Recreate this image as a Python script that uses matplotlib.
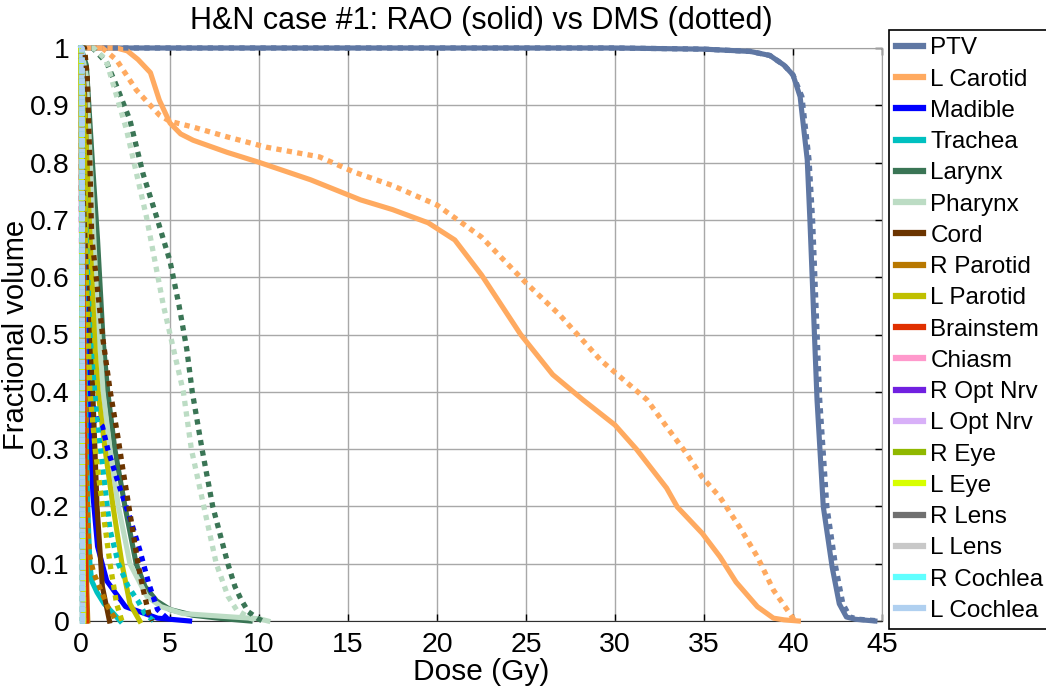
import matplotlib
matplotlib.use("Agg")
import matplotlib.pyplot as plt

plt.rcParams['font.family'] = ['Liberation Sans', 'DejaVu Sans']

organs = ["PTV", "L Carotid", "Madible", "Trachea", "Larynx", "Pharynx", "Cord",
          "R Parotid", "L Parotid", "Brainstem", "Chiasm", "R Opt Nrv", "L Opt Nrv",
          "R Eye", "L Eye", "R Lens", "L Lens", "R Cochlea", "L Cochlea"]
colors = ["#5f77a3", "#ffaa60", "#0000ff", "#00c0c0", "#3a7555", "#bcdcc4", "#6b3400",
          "#b87800", "#c0c000", "#e03000", "#ff99cc", "#7020e0", "#d8b0f8",
          "#90b800", "#d8ff00", "#707070", "#c8c8c8", "#60ffff", "#b0d0f0"]

x_ticks = [0, 5, 10, 15, 20, 25, 30, 35, 40, 45]
y_ticks = [0, 0.1, 0.2, 0.3, 0.4, 0.5, 0.6, 0.7, 0.8, 0.9, 1]
y_tick_labels = ["0", "0.1", "0.2", "0.3", "0.4", "0.5", "0.6", "0.7", "0.8", "0.9", "1"]

# ---- RAO plan (solid): dose in Gy, fractional volume ----
ptv_rao_dose = [0, 30, 35, 37.6, 38.7, 39.5, 40.0, 40.4, 40.8, 40.95, 41.35, 41.7, 42.2, 42.6, 43.0, 43.5, 44.6]
ptv_rao_vol = [1, 1, 0.998, 0.994, 0.987, 0.97, 0.953, 0.915, 0.805, 0.70, 0.386, 0.2, 0.094, 0.03, 0.007, 0.003, 0]
lcar_rao_dose = [0, 2.0, 2.6, 3.2, 3.9, 4.4, 5.0, 5.6, 6.3, 8.2, 10.05, 12.9, 15.7, 17.5, 19.5, 21.0, 22.5,
                 24.7, 26.5, 28.2, 30.0, 31.2, 32.9, 33.5, 34.9, 35.9, 36.8, 38.0, 38.9, 39.5, 40.3]
lcar_rao_vol = [1, 1, 0.995, 0.98, 0.957, 0.909, 0.869, 0.85, 0.839, 0.818, 0.80, 0.77, 0.735, 0.718, 0.695, 0.665, 0.604,
                0.5, 0.43, 0.386, 0.342, 0.3, 0.232, 0.199, 0.153, 0.112, 0.068, 0.025, 0.005, 0.002, 0]
mand_rao_dose = [0, 0.15, 0.3, 0.4, 0.5, 0.67, 0.93, 1.45, 2.5, 4.3, 6.1]
mand_rao_vol = [1, 0.8, 0.55, 0.46, 0.33, 0.22, 0.13, 0.07, 0.025, 0.005, 0]
trach_rao_dose = [0, 0.1, 0.2, 0.3, 0.4, 0.5, 0.6, 0.9, 1.3, 1.8, 2.2]
trach_rao_vol = [1, 0.8, 0.5, 0.3, 0.18, 0.1, 0.07, 0.05, 0.03, 0.014, 0]
lar_rao_dose = [0, 0.3, 0.6, 0.93, 1.24, 1.5, 1.9, 2.47, 3.1, 3.6, 4.25, 5.0, 6.3, 8.0, 9.5]
lar_rao_vol = [1, 0.97, 0.82, 0.665, 0.49, 0.4, 0.3, 0.2, 0.1, 0.06, 0.035, 0.02, 0.01, 0.004, 0]
phar_rao_dose = [0, 0.3, 0.6, 0.9, 1.24, 1.63, 2.1, 2.75, 3.7, 4.5, 5.7, 8.5, 10.0, 10.5]
phar_rao_vol = [1, 0.95, 0.75, 0.55, 0.4, 0.3, 0.2, 0.1, 0.043, 0.025, 0.013, 0.007, 0.004, 0]
cord_rao_dose = [0, 0.2, 0.4, 0.6, 0.9, 1.2, 1.6]
cord_rao_vol = [1, 0.92, 0.7, 0.45, 0.2, 0.06, 0]
rpar_rao_dose = [0, 0.1, 0.2, 0.28, 0.33, 0.38]
rpar_rao_vol = [1, 0.7, 0.35, 0.12, 0.05, 0]
lpar_rao_dose = [0, 0.2, 0.4, 0.6, 0.8, 0.96, 1.35, 1.8, 2.3, 2.75, 3.3]
lpar_rao_vol = [1, 0.9, 0.75, 0.6, 0.47, 0.4, 0.3, 0.2, 0.1, 0.03, 0]
bstem_rao_dose = [0, 0.15, 0.25, 0.3]
bstem_rao_vol = [1, 0.5, 0.1, 0]
chiasm_rao_dose = [0, 0.05, 0.12]
chiasm_rao_vol = [1, 0.4, 0]
ropt_rao_dose = [0, 0.05, 0.1]
ropt_rao_vol = [1, 0.5, 0]
lopt_rao_dose = [0, 0.05, 0.1]
lopt_rao_vol = [1, 0.5, 0]
reye_rao_dose = [0, 0.08, 0.15]
reye_rao_vol = [1, 0.3, 0]
leye_rao_dose = [0, 0.08, 0.15]
leye_rao_vol = [1, 0.3, 0]
rlens_rao_dose = [0, 0.05, 0.08]
rlens_rao_vol = [1, 1, 0]
llens_rao_dose = [0, 0.05, 0.08]
llens_rao_vol = [1, 1, 0]
rcoch_rao_dose = [0, 0.05, 0.08]
rcoch_rao_vol = [1, 1, 0]
lcoch_rao_dose = [0, 0.06, 0.1]
lcoch_rao_vol = [1, 1, 0]

# ---- DMS plan (dotted) ----
ptv_dms_dose = [0, 30, 35, 37.6, 38.7, 39.5, 40.0, 40.5, 40.9, 41.1, 41.5, 41.9, 42.4, 42.8, 43.2, 43.7, 44.9]
ptv_dms_vol = [1, 1, 0.998, 0.994, 0.987, 0.97, 0.953, 0.915, 0.805, 0.70, 0.386, 0.2, 0.094, 0.03, 0.007, 0.003, 0]
lcar_dms_dose = [0, 1.2, 2.0, 3.1, 4.4, 5.0, 6.3, 8.2, 10.4, 13.4, 15.3, 17.5, 20.0, 22.5, 25.0, 26.9,
                 29.2, 31.8, 32.9, 34.0, 34.9, 35.9, 37.0, 38.0, 38.9, 39.8, 40.1]
lcar_dms_vol = [1, 1, 0.979, 0.927, 0.883, 0.872, 0.862, 0.845, 0.827, 0.81, 0.784, 0.76, 0.726, 0.67, 0.59, 0.534,
                0.455, 0.386, 0.339, 0.293, 0.251, 0.216, 0.164, 0.112, 0.054, 0.014, 0]
mand_dms_dose = [0, 0.1, 0.2, 0.35, 0.5, 0.9, 1.2, 1.5, 2.1, 2.75, 3.3, 3.8, 4.3, 5.0]
mand_dms_vol = [1, 0.85, 0.65, 0.48, 0.40, 0.35, 0.34, 0.3, 0.24, 0.18, 0.124, 0.066, 0.02, 0]
trach_dms_dose = [0, 0.2, 0.5, 0.9, 1.4, 1.63, 2.1, 2.65, 3.2, 3.6, 4.1]
trach_dms_vol = [1, 0.75, 0.5, 0.35, 0.22, 0.159, 0.1, 0.06, 0.035, 0.012, 0]
lar_dms_dose = [0, 0.66, 1.45, 1.98, 2.75, 3.49, 4.2, 5.0, 5.5, 5.94, 6.25, 6.8, 7.4, 8.25, 8.65, 9.0, 9.4, 9.9, 10.2]
lar_dms_vol = [1, 1, 0.974, 0.935, 0.874, 0.78, 0.71, 0.628, 0.552, 0.475, 0.4, 0.3, 0.2, 0.1, 0.06, 0.037, 0.016, 0.005, 0]
phar_dms_dose = [0, 0.7, 1.4, 2.55, 3.68, 4.62, 5.75, 6.2, 6.9, 7.6, 8.26, 8.75, 9.5, 10.0]
phar_dms_vol = [1, 1, 0.98, 0.858, 0.705, 0.552, 0.4, 0.3, 0.2, 0.1, 0.043, 0.019, 0.005, 0]
cord_dms_dose = [0, 0.2, 0.35, 0.5, 0.6, 0.73, 0.93, 1.24, 1.63, 2.1, 2.3, 2.6, 2.9, 3.2, 3.5, 3.8, 4.0]
cord_dms_vol = [1, 1, 0.95, 0.8, 0.67, 0.635, 0.578, 0.49, 0.403, 0.316, 0.275, 0.217, 0.159, 0.1, 0.054, 0.014, 0]
rpar_dms_dose = [0, 0.15, 0.25, 0.32, 0.4, 0.5, 0.7, 0.95, 1.5, 2.0]
rpar_dms_vol = [1, 0.8, 0.5, 0.25, 0.15, 0.112, 0.085, 0.066, 0.025, 0]
lpar_dms_dose = [0, 0.15, 0.3, 0.5, 0.8, 1.2, 1.63, 2.0, 2.3]
lpar_dms_vol = [1, 0.85, 0.6, 0.4, 0.3, 0.2, 0.1, 0.03, 0]
bstem_dms_dose = [0, 0.1, 0.2, 0.25]
bstem_dms_vol = [1, 0.6, 0.15, 0]
chiasm_dms_dose = [0, 0.05, 0.1]
chiasm_dms_vol = [1, 0.4, 0]
ropt_dms_dose = [0, 0.05, 0.1]
ropt_dms_vol = [1, 0.5, 0]
lopt_dms_dose = [0, 0.05, 0.1]
lopt_dms_vol = [1, 0.5, 0]
reye_dms_dose = [0, 0.08, 0.15]
reye_dms_vol = [1, 0.3, 0]
leye_dms_dose = [0, 0.08, 0.15]
leye_dms_vol = [1, 0.3, 0]
rlens_dms_dose = [0, 0.05, 0.08]
rlens_dms_vol = [1, 1, 0]
llens_dms_dose = [0, 0.05, 0.08]
llens_dms_vol = [1, 1, 0]
rcoch_dms_dose = [0, 0.05, 0.08]
rcoch_dms_vol = [1, 1, 0]
lcoch_dms_dose = [0, 0.06, 0.1]
lcoch_dms_vol = [1, 1, 0]

rao_curves = [
    (ptv_rao_dose, ptv_rao_vol), (lcar_rao_dose, lcar_rao_vol), (mand_rao_dose, mand_rao_vol),
    (trach_rao_dose, trach_rao_vol), (lar_rao_dose, lar_rao_vol), (phar_rao_dose, phar_rao_vol),
    (cord_rao_dose, cord_rao_vol), (rpar_rao_dose, rpar_rao_vol), (lpar_rao_dose, lpar_rao_vol),
    (bstem_rao_dose, bstem_rao_vol), (chiasm_rao_dose, chiasm_rao_vol), (ropt_rao_dose, ropt_rao_vol),
    (lopt_rao_dose, lopt_rao_vol), (reye_rao_dose, reye_rao_vol), (leye_rao_dose, leye_rao_vol),
    (rlens_rao_dose, rlens_rao_vol), (llens_rao_dose, llens_rao_vol), (rcoch_rao_dose, rcoch_rao_vol),
    (lcoch_rao_dose, lcoch_rao_vol),
]
dms_curves = [
    (ptv_dms_dose, ptv_dms_vol), (lcar_dms_dose, lcar_dms_vol), (mand_dms_dose, mand_dms_vol),
    (trach_dms_dose, trach_dms_vol), (lar_dms_dose, lar_dms_vol), (phar_dms_dose, phar_dms_vol),
    (cord_dms_dose, cord_dms_vol), (rpar_dms_dose, rpar_dms_vol), (lpar_dms_dose, lpar_dms_vol),
    (bstem_dms_dose, bstem_dms_vol), (chiasm_dms_dose, chiasm_dms_vol), (ropt_dms_dose, ropt_dms_vol),
    (lopt_dms_dose, lopt_dms_vol), (reye_dms_dose, reye_dms_vol), (leye_dms_dose, leye_dms_vol),
    (rlens_dms_dose, rlens_dms_vol), (llens_dms_dose, llens_dms_vol), (rcoch_dms_dose, rcoch_dms_vol),
    (lcoch_dms_dose, lcoch_dms_vol),
]

W, H = 1046, 687
fig = plt.figure(figsize=(W / 100, H / 100), dpi=100)
ax = fig.add_axes([81 / W, 1 - 621 / H, (882 - 81) / W, (621 - 48) / H])

solid_handles = []
for name, col, (d, v) in zip(organs, colors, rao_curves):
    ln, = ax.plot(d, v, color=col, linewidth=3.7, solid_joinstyle='round',
                  label=name, clip_on=False, zorder=3)
    solid_handles.append(ln)
for col, (d, v) in zip(colors, dms_curves):
    ax.plot(d, v, color=col, linewidth=3.8, linestyle=(0, (1.0, 1.0)),
            dash_capstyle='butt', clip_on=False, zorder=3)

ax.set_xlim(0, 45)
ax.set_ylim(0, 1)
ax.set_xticks(x_ticks)
ax.set_xticklabels([str(t) for t in x_ticks])
ax.set_yticks(y_ticks)
ax.set_yticklabels(y_tick_labels)
ax.grid(True, color='#a8a8a8', linewidth=1.0, linestyle='-', zorder=0)
ax.set_axisbelow(True)
ax.tick_params(direction='in', length=5, width=1, top=True, right=True,
               labelsize=20.5, pad=8, colors='black')
for s in ('left', 'bottom'):
    ax.spines[s].set_color('#303030')
for s in ('top', 'right'):
    ax.spines[s].set_color('#a0a0a0')

ax.set_title("H&N case #1: RAO (solid) vs DMS (dotted)", fontsize=22, pad=14)
ax.set_xlabel("Dose (Gy)", fontsize=21.5, labelpad=0)
ax.set_ylabel("Fractional volume", fontsize=21)
ax.yaxis.set_label_coords(-0.064, 0.5)

leg = ax.legend(handles=solid_handles, loc='upper left',
                bbox_to_anchor=(889 / W, 1 - 30 / H), bbox_transform=fig.transFigure,
                frameon=True, fancybox=False, edgecolor='black', framealpha=1,
                fontsize=17.5, handlelength=1.1, handletextpad=0.3,
                labelspacing=0.38, borderpad=0.3, borderaxespad=0)
leg.get_frame().set_linewidth(1.2)
for lh in leg.get_lines():
    lh.set_linewidth(4.5)

fig.savefig("out.png", dpi=100)
